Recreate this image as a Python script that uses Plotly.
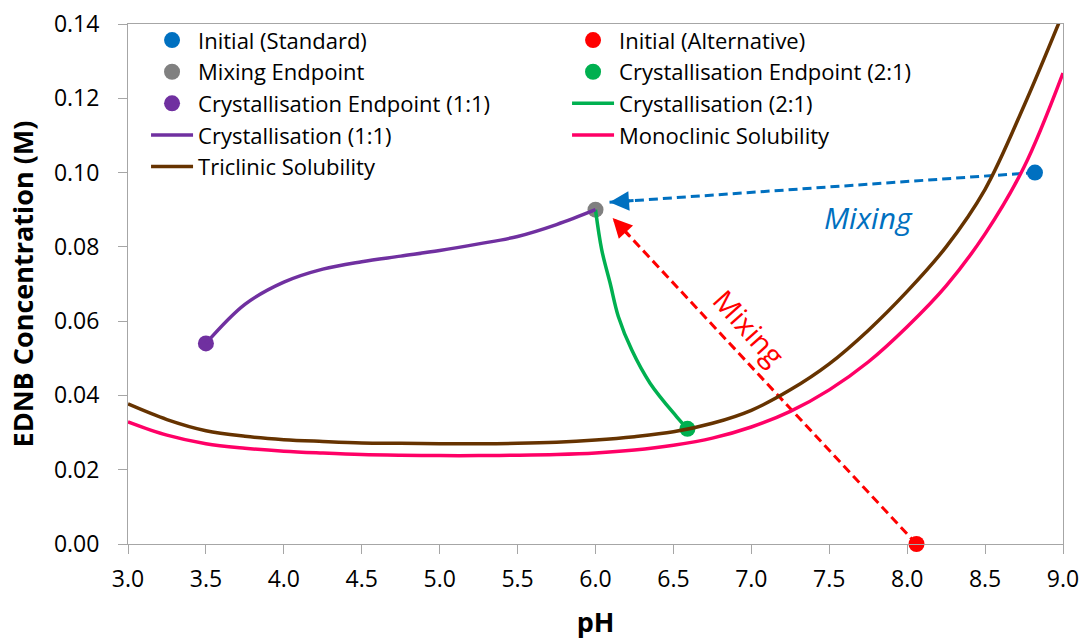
import plotly.graph_objects as go

# ---------------- data ----------------
std_initial_x = [8.82]
std_initial_y = [0.100]
alt_initial_x = [8.06]
alt_initial_y = [0.000]
mix_end_x = [6.00]
mix_end_y = [0.090]
cryst_end21_x = [6.59]
cryst_end21_y = [0.031]
cryst_end11_x = [3.50]
cryst_end11_y = [0.054]

cryst21_x = [6.00, 6.04, 6.094, 6.147, 6.233, 6.35, 6.52, 6.59]
cryst21_y = [0.090, 0.0792, 0.0702, 0.0612, 0.0522, 0.0433, 0.0343, 0.031]

cryst11_x = [3.50, 3.75, 4.00, 4.25, 4.50, 4.75, 5.00, 5.25, 5.50, 5.75, 6.00]
cryst11_y = [0.054, 0.0645, 0.0705, 0.0740, 0.0760, 0.0775, 0.0790, 0.0808, 0.0828, 0.0860, 0.0900]

ph_grid = [3.0, 3.25, 3.5, 3.75, 4.0, 4.25, 4.5, 4.75, 5.0, 5.25, 5.5, 5.75, 6.0,
           6.25, 6.5, 6.75, 7.0, 7.25, 7.5, 7.75, 8.0, 8.25, 8.5, 8.75, 9.0]
monoclinic_y = [0.0329, 0.0293, 0.0270, 0.0258, 0.0250, 0.0245, 0.0241, 0.0239, 0.0238,
                0.0238, 0.0239, 0.0241, 0.0245, 0.0253, 0.0266, 0.0285, 0.0315, 0.0357,
                0.0415, 0.0490, 0.0585, 0.0695, 0.0835, 0.1015, 0.1268]
triclinic_y = [0.0377, 0.0335, 0.0305, 0.0290, 0.0281, 0.0276, 0.0272, 0.0271, 0.0270,
               0.0270, 0.0271, 0.0274, 0.0280, 0.0289, 0.0302, 0.0325, 0.0360, 0.0415,
               0.0485, 0.0575, 0.0680, 0.0800, 0.0955, 0.1180, 0.1430]

# mixing arrows: start (initial point) -> tip (near mixing endpoint)
blue_arrow_x = [8.82, 6.09]
blue_arrow_y = [0.100, 0.0920]
red_arrow_x = [8.06, 6.11]
red_arrow_y = [0.000, 0.0878]

x_ticks = [3.0, 3.5, 4.0, 4.5, 5.0, 5.5, 6.0, 6.5, 7.0, 7.5, 8.0, 8.5, 9.0]
y_ticks = [0.00, 0.02, 0.04, 0.06, 0.08, 0.10, 0.12, 0.14]

BLUE = "#0070C0"
RED = "#FF0000"
GRAY = "#808080"
GREEN = "#00B050"
PURPLE = "#7030A0"
BROWN = "#663300"
PINK = "#FF0066"
FONT = "Open Sans"

fig = go.Figure()

# dashed mixing lines (no legend)
fig.add_trace(go.Scatter(x=blue_arrow_x, y=blue_arrow_y, mode="lines", showlegend=False,
                         line=dict(color=BLUE, width=3, dash="9px,5px"), hoverinfo="skip"))
fig.add_trace(go.Scatter(x=red_arrow_x, y=red_arrow_y, mode="lines", showlegend=False,
                         line=dict(color=RED, width=3, dash="9px,5px"), hoverinfo="skip"))

mk = 16
fig.add_trace(go.Scatter(x=std_initial_x, y=std_initial_y, mode="markers", name="Initial (Standard)",
                         marker=dict(color=BLUE, size=mk), cliponaxis=False))
fig.add_trace(go.Scatter(x=alt_initial_x, y=alt_initial_y, mode="markers", name="Initial (Alternative)",
                         marker=dict(color=RED, size=mk), cliponaxis=False))
fig.add_trace(go.Scatter(x=mix_end_x, y=mix_end_y, mode="markers", name="Mixing Endpoint",
                         marker=dict(color=GRAY, size=mk)))
fig.add_trace(go.Scatter(x=cryst_end21_x, y=cryst_end21_y, mode="markers", name="Crystallisation Endpoint (2:1)",
                         marker=dict(color=GREEN, size=mk)))
fig.add_trace(go.Scatter(x=cryst_end11_x, y=cryst_end11_y, mode="markers", name="Crystallisation Endpoint (1:1)",
                         marker=dict(color=PURPLE, size=mk)))
fig.add_trace(go.Scatter(x=cryst21_x, y=cryst21_y, mode="lines", name="Crystallisation (2:1)",
                         line=dict(color=GREEN, width=3.5, shape="spline")))
fig.add_trace(go.Scatter(x=cryst11_x, y=cryst11_y, mode="lines", name="Crystallisation (1:1)",
                         line=dict(color=PURPLE, width=3.5, shape="spline")))
fig.add_trace(go.Scatter(x=ph_grid, y=monoclinic_y, mode="lines", name="Monoclinic Solubility",
                         line=dict(color=PINK, width=3.5, shape="spline")))
fig.add_trace(go.Scatter(x=ph_grid, y=triclinic_y, mode="lines", name="Triclinic Solubility",
                         line=dict(color=BROWN, width=3.5, shape="spline")))

# arrowheads
def head(xs, ys, color):
    tx, ty = xs[1], ys[1]
    bx = tx + 0.06 * (xs[0] - tx)
    by = ty + 0.06 * (ys[0] - ty)
    fig.add_annotation(x=tx, y=ty, ax=bx, ay=by, xref="x", yref="y", axref="x", ayref="y",
                       text="", showarrow=True, arrowhead=2, arrowsize=1.3, arrowwidth=3,
                       arrowcolor=color)

head(blue_arrow_x, blue_arrow_y, BLUE)
head(red_arrow_x, red_arrow_y, RED)

fig.add_annotation(x=7.75, y=0.0878, xref="x", yref="y", text="<i>Mixing</i>", showarrow=False,
                   font=dict(family=FONT, size=30, color=BLUE))
fig.add_annotation(x=6.99, y=0.0584, xref="x", yref="y", text="Mixing", showarrow=False,
                   textangle=48, font=dict(family=FONT, size=29, color=RED))

axis_common = dict(showline=True, linecolor="#A6A6A6", linewidth=1, mirror=True,
                   ticks="outside", ticklen=9, tickcolor="#A6A6A6", showgrid=False,
                   zeroline=False, automargin=False,
                   tickfont=dict(family=FONT, size=23, color="#000000"))

fig.update_xaxes(range=[3, 9], tickvals=x_ticks, ticktext=[f"{v:.1f}" for v in x_ticks],
                 title=dict(text="<b>pH</b>", font=dict(family=FONT, size=27, color="#000"), standoff=20),
                 ticklabelstandoff=5, **axis_common)
fig.update_yaxes(range=[0, 0.14], tickvals=y_ticks, ticktext=[f"{v:.2f}" for v in y_ticks],
                 title=dict(text="<b>EDNB Concentration (M)</b>", font=dict(family=FONT, size=27, color="#000"),
                            standoff=12),
                 ticklabelstandoff=14, **axis_common)

fig.update_layout(
    width=1085, height=642,
    margin=dict(l=128, r=22, t=24, b=98),
    plot_bgcolor="white", paper_bgcolor="white",
    font=dict(family=FONT, color="#000"),
    legend=dict(orientation="h", x=0.0193, y=1.009, xanchor="left", yanchor="top",
                entrywidth=364, entrywidthmode="pixels", tracegroupgap=0, itemwidth=42,
                font=dict(family=FONT, size=22, color="#000"), bgcolor="rgba(0,0,0,0)"),
)

fig.write_html("out.html")
